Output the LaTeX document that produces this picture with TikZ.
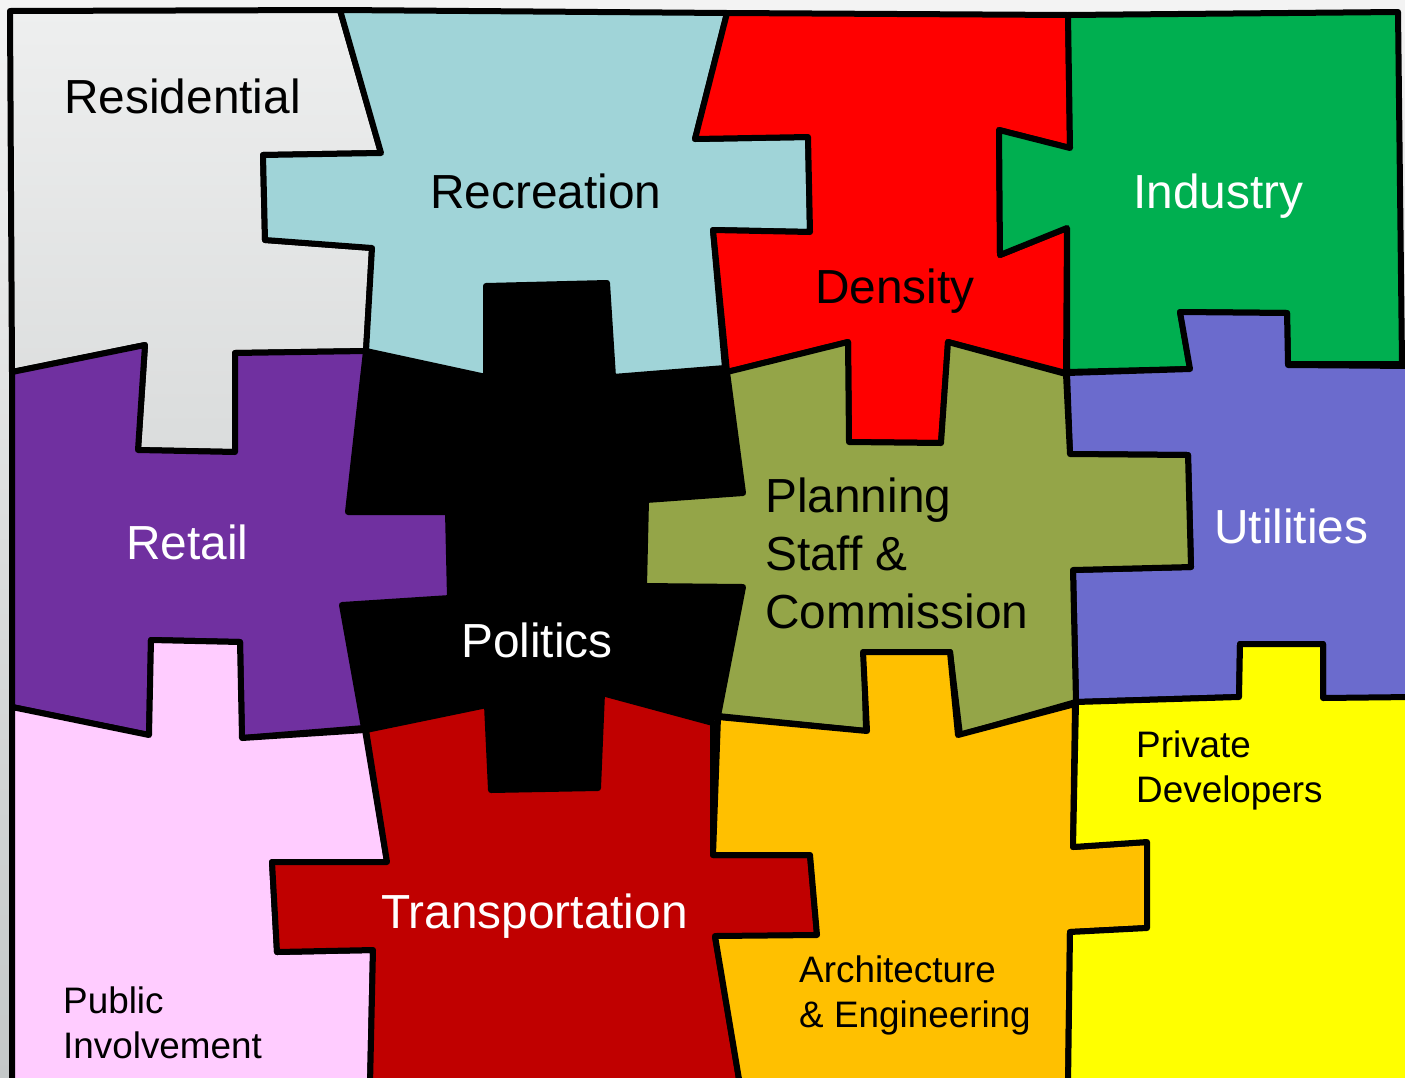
\documentclass[tikz,border=0pt]{standalone}
\usepackage{fontspec}
\setmainfont{Liberation Sans}
\usepackage{tikz}
\usetikzlibrary{positioning}
\definecolor{resgray}{HTML}{EEEFEF}
\definecolor{resgraylow}{HTML}{DADCDC}
\definecolor{bgtop}{HTML}{F3F3F3}
\definecolor{bgbottom}{HTML}{C4C8C8}
\definecolor{recblue}{HTML}{A0D4D8}
\definecolor{indgreen}{HTML}{00AF50}
\definecolor{utilblue}{HTML}{6B6BCD}
\definecolor{planolive}{HTML}{94A548}
\definecolor{retailpurple}{HTML}{7030A0}
\definecolor{publicpink}{HTML}{FFCCFF}
\definecolor{transred}{HTML}{C00000}
\definecolor{archamber}{HTML}{FFC000}
\definecolor{devyellow}{HTML}{FFFF00}
\tikzstyle{piece} = [draw=black, line width=6bp, line join=round]
\tikzstyle{biglabel} = [anchor=base west, inner sep=0pt, align=left, font=\fontsize{48}{58}\selectfont]
\tikzstyle{smalllabel} = [anchor=base west, inner sep=0pt, align=left, font=\fontsize{37}{45}\selectfont]

\begin{document}
\begin{tikzpicture}[x=1bp, y=-1bp]
\useasboundingbox (0,0) rectangle (1405,1077);
\clip (0,0) rectangle (1405,1077);
\shade[top color=bgtop, bottom color=bgbottom] (0,0) rectangle (1405,1077);

% Pieces
\path[piece, top color=resgray, bottom color=resgraylow] (10,11) -- (340,10) -- (381,153) -- (263,155) -- (265,240) -- (372,248) -- (366,351) -- (235,353) -- (235,452) -- (138,450) -- (145,345) -- (12,372) -- cycle;
\path[piece, fill=recblue] (340,10) -- (727,13) -- (695,139) -- (808,137) -- (810,232) -- (713,230) -- (725,368) -- (613,377) -- (607,283) -- (486,286) -- (486,377) -- (366,351) -- (372,248) -- (265,240) -- (263,155) -- (381,153) -- cycle;
\path[piece, fill=red] (727,13) -- (1068,15) -- (1070,148) -- (999,130) -- (1000,255) -- (1067,228) -- (1066,373) -- (948,342) -- (941,443) -- (849,442) -- (848,342) -- (727,372) -- (713,230) -- (810,232) -- (808,137) -- (695,139) -- cycle;
\path[piece, fill=indgreen] (1068,15) -- (1398,12) -- (1402,364) -- (1288,364) -- (1287,313) -- (1180,312) -- (1190,369) -- (1067,372) -- (1067,228) -- (1000,255) -- (999,130) -- (1070,148) -- cycle;
\path[piece, fill=utilblue] (1067,373) -- (1190,369) -- (1180,312) -- (1287,313) -- (1288,365) -- (1412,366) -- (1412,698) -- (1323,698) -- (1323,644) -- (1240,644) -- (1239,697) -- (1076,702) -- (1073,570) -- (1191,567) -- (1188,455) -- (1070,454) -- cycle;
\path[piece, fill=planolive] (727,372) -- (848,342) -- (849,442) -- (941,443) -- (948,342) -- (1066,374) -- (1070,454) -- (1188,455) -- (1191,567) -- (1073,570) -- (1076,702) -- (960,735) -- (950,652) -- (864,652) -- (866,731) -- (718,716) -- (743,587) -- (644,586) -- (646,500) -- (743,493) -- cycle;
\path[piece, fill=retailpurple] (12,372) -- (145,345) -- (138,450) -- (235,452) -- (235,353) -- (366,351) -- (348,512) -- (448,512) -- (450,598) -- (342,605) -- (364,728) -- (242,738) -- (240,642) -- (151,640) -- (149,735) -- (12,707) -- cycle;
\path[piece, fill=publicpink] (12,707) -- (149,735) -- (151,640) -- (240,642) -- (242,738) -- (365,730) -- (387,862) -- (272,862) -- (277,952) -- (373,950) -- (370,1085) -- (12,1085) -- cycle;
\path[piece, fill=transred] (366,730) -- (487,705) -- (491,790) -- (598,788) -- (602,693) -- (713,723) -- (713,855) -- (810,855) -- (817,935) -- (715,937) -- (740,1085) -- (370,1085) -- (373,950) -- (277,952) -- (272,862) -- (387,862) -- cycle;
\path[piece, fill=archamber] (718,717) -- (867,731) -- (863,652) -- (950,652) -- (958,735) -- (1075,704) -- (1073,847) -- (1147,842) -- (1147,928) -- (1070,932) -- (1068,1085) -- (740,1085) -- (715,936) -- (817,935) -- (810,855) -- (713,855) -- cycle;
\path[piece, fill=devyellow] (1076,702) -- (1239,697) -- (1240,644) -- (1323,644) -- (1323,698) -- (1412,697) -- (1412,1085) -- (1068,1085) -- (1070,932) -- (1147,928) -- (1147,842) -- (1073,847) -- cycle;
\fill[black, rounded corners=2bp] (366,351) -- (486,377) -- (486,285) -- (607,282) -- (613,377) -- (725,368) -- (728,373) -- (743,493) -- (646,500) -- (644,586) -- (743,587) -- (718,716) -- (713,723) -- (602,693) -- (598,788) -- (491,790) -- (487,705) -- (366,730) -- (342,605) -- (450,598) -- (448,512) -- (348,512) -- cycle;

% Labels
\node [biglabel] (residential) at (64,113) {Residential};
\node [biglabel] (recreation) at (430,208) {Recreation};
\node [biglabel] (density) at (815,303) {Density};
\node [biglabel, white] (industry) at (1133,208) {Industry};
\node [biglabel, white] (retail) at (126,559) {Retail};
\node [biglabel, white] (politics) at (461,657) {Politics};
\node [biglabel] (planning) at (765,628) {Planning\\Staff \&\\Commission};
\node [biglabel, white] (utilities) at (1214,543) {Utilities};
\node [biglabel, white] (transportation) at (381,928) {Transportation};
\node [smalllabel] (private) at (1136,802) {Private\\Developers};
\node [smalllabel] (architecture) at (799,1027) {Architecture\\\& Engineering};
\node [smalllabel] (public) at (63,1058) {Public\\Involvement};
\end{tikzpicture}
\end{document}
